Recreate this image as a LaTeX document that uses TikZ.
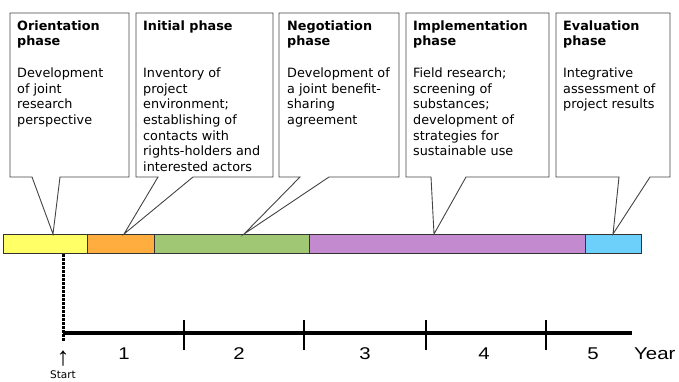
\documentclass[tikz,border=0pt]{standalone}
\usepackage{fontspec}
\usetikzlibrary{calc}
\setmainfont{DejaVu Sans}
\newfontfamily\axisfont[FakeStretch=1.2]{Liberation Sans}
\newfontfamily\arrowfont{Liberation Sans}
\definecolor{cyel}{HTML}{FFFF66}
\definecolor{corg}{HTML}{FFAD3E}
\definecolor{cgrn}{HTML}{9FC774}
\definecolor{cpur}{HTML}{C38AD0}
\definecolor{cblu}{HTML}{6DD0FA}
\definecolor{boxgray}{HTML}{444444}
\tikzset{
  callout/.style={draw=boxgray, line width=0.9pt, fill=white, line join=miter},
  boxtext/.style={anchor=north west, inner sep=0pt, align=left,
    font=\fontsize{12.8pt}{15.7pt}\selectfont},
  seg/.style={draw=black!80, line width=0.8pt, minimum height=19pt, inner sep=0pt, anchor=north west},
  axisline/.style={line width=4pt},
  tickline/.style={line width=2.5pt},
  dotsq/.style={fill=black},
  yearlbl/.style={anchor=base, inner sep=0pt, font=\axisfont\fontsize{17pt}{17pt}\selectfont},
}
\begin{document}
\begin{tikzpicture}[x=1pt,y=-1pt]
\useasboundingbox (0,0) rectangle (679,381);
% bar segments
\node[seg, fill=cyel, minimum width=84pt] (s1) at (3,234) {};
\node[seg, fill=corg, minimum width=67pt] (s2) at (87,234) {};
\node[seg, fill=cgrn, minimum width=155pt] (s3) at (154,234) {};
\node[seg, fill=cpur, minimum width=276pt] (s4) at (309,234) {};
\node[seg, fill=cblu, minimum width=56pt] (s5) at (585,234) {};
% pointer tips
\coordinate (t1) at (53,234);
\coordinate (t2) at (124,234);
\coordinate (t3) at (244,234);
\coordinate (t4) at (434,234);
\coordinate (t5) at (613,234);
% callouts
\draw[callout] (10,13) -- (129,13) -- (129,177) -- (60,177) -- (t1) -- (32,177) -- (10,177) -- cycle;
\draw[callout] (136,13) -- (273,13) -- (273,177) -- (193,177) -- (t2) -- (158,177) -- (136,177) -- cycle;
\draw[callout] (279,13) -- (399,13) -- (399,177) -- (329,177) -- (t3) -- (300,177) -- (279,177) -- cycle;
\draw[callout] (406,13) -- (549,13) -- (549,177) -- (466,177) -- (t4) -- (431,177) -- (406,177) -- cycle;
\draw[callout] (556,13) -- (670,13) -- (670,177) -- (650,177) -- (t5) -- (619,177) -- (556,177) -- cycle;
% texts
\node[boxtext] (b1) at (17,20) {\rule{0pt}{10pt}\textbf{Orientation}\\\textbf{phase}\\[15.7pt]Development\\of joint\\research\\perspective};
\node[boxtext] (b2) at (143,20) {\rule{0pt}{10pt}\textbf{Initial phase}\\[31.4pt]Inventory of\\project\\environment;\\establishing of\\contacts with\\rights-holders and\\interested actors};
\node[boxtext] (b3) at (287,20) {\rule{0pt}{10pt}\textbf{Negotiation}\\\textbf{phase}\\[15.7pt]Development of\\a joint benefit-\\sharing\\agreement};
\node[boxtext] (b4) at (413,20) {\rule{0pt}{10pt}\textbf{Implementation}\\\textbf{phase}\\[15.7pt]Field research;\\screening of\\substances;\\development of\\strategies for\\sustainable use};
\node[boxtext] (b5) at (563,20) {\rule{0pt}{10pt}\textbf{Evaluation}\\\textbf{phase}\\[15.7pt]Integrative\\assessment of\\project results};
% time axis
\coordinate (start) at (63,253);
\coordinate (a0) at (63,333);
\coordinate (aend) at (632,333);
\foreach \k in {0,...,21} {
  \fill[dotsq] ($(start)+(-1.5,1+4*\k)$) rectangle ++(3,2.6);
}
\draw[axisline] (a0) -- (aend);
\foreach \x in {184,304,426,546} {
  \draw[tickline] (\x,320) -- (\x,350);
}
\node[yearlbl] (y1) at (124,359) {1};
\node[yearlbl] (y2) at (239,359) {2};
\node[yearlbl] (y3) at (365,359) {3};
\node[yearlbl] (y4) at (484,359) {4};
\node[yearlbl] (y5) at (593,359) {5};
\node[yearlbl, anchor=base west] (yr) at (634,359) {Year};
\node[anchor=base, inner sep=0pt, text depth=0pt, font=\arrowfont\fontsize{26pt}{26pt}\selectfont] (arr) at (63,365.5) {↑};
\node[anchor=base, inner sep=0pt, font=\fontsize{10.5pt}{10.5pt}\selectfont] (st) at (63,378.5) {Start};
\end{tikzpicture}
\end{document}
